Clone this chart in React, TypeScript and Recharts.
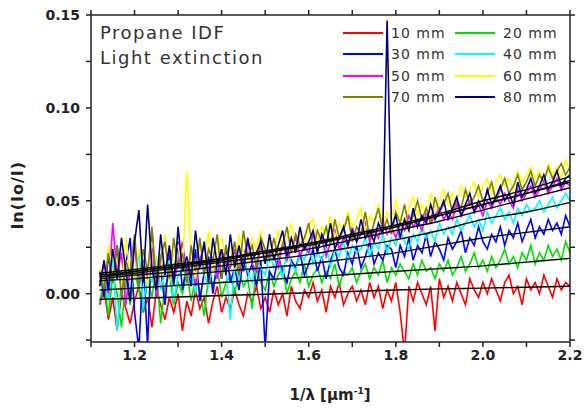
import React from 'react';
import { LineChart, Line, XAxis, YAxis } from 'recharts';

// 1/λ grid, µm^-1
const X = [
  1.12, 1.13, 1.14, 1.15, 1.16, 1.17, 1.18, 1.19, 1.2, 1.21,
  1.22, 1.23, 1.24, 1.25, 1.26, 1.27, 1.28, 1.29, 1.3, 1.31,
  1.32, 1.33, 1.34, 1.35, 1.36, 1.37, 1.38, 1.39, 1.4, 1.41,
  1.42, 1.43, 1.44, 1.45, 1.46, 1.47, 1.48, 1.49, 1.5, 1.51,
  1.52, 1.53, 1.54, 1.55, 1.56, 1.57, 1.58, 1.59, 1.6, 1.61,
  1.62, 1.63, 1.64, 1.65, 1.66, 1.67, 1.68, 1.69, 1.7, 1.71,
  1.72, 1.73, 1.74, 1.75, 1.76, 1.77, 1.78, 1.79, 1.8, 1.81,
  1.82, 1.83, 1.84, 1.85, 1.86, 1.87, 1.88, 1.89, 1.9, 1.91,
  1.92, 1.93, 1.94, 1.95, 1.96, 1.97, 1.98, 1.99, 2.0, 2.01,
  2.02, 2.03, 2.04, 2.05, 2.06, 2.07, 2.08, 2.09, 2.1, 2.11,
  2.12, 2.13, 2.14, 2.15, 2.16, 2.17, 2.18, 2.19, 2.2,
];

const S10 = [
  -0.006, 0.002, -0.014, -0.002, -0.02, 0.0, -0.008, -0.016, -0.004, 0.004,
  -0.01, -0.002, -0.018, 0.002, -0.006, -0.014, -0.002, -0.01, 0.0, -0.02,
  -0.004, -0.012, 0.002, -0.008, -0.002, -0.016, -0.004, 0.004, -0.01, -0.002,
  -0.008, 0.002, -0.006, -0.012, 0.0, -0.004, 0.004, -0.008, -0.002, -0.01,
  0.002, -0.006, 0.0, -0.012, 0.004, -0.004, -0.008, 0.002, -0.002, 0.006,
  -0.004, 0.002, -0.01, 0.004, -0.002, 0.006, -0.006, 0.0, 0.004, -0.004,
  0.002, -0.006, 0.006, -0.002, 0.004, -0.008, 0.002, -0.004, 0.006, -0.01,
  -0.032, 0.004, -0.004, 0.006, 0.0, -0.006, 0.004, -0.02, 0.008, -0.002,
  0.004, -0.004, 0.006, 0.0, -0.006, 0.008, 0.002, -0.002, 0.006, 0.0,
  0.008, 0.002, -0.004, 0.006, 0.01, 0.0, 0.004, -0.006, 0.008, 0.002,
  0.006, 0.0, 0.01, 0.004, -0.002, 0.008, 0.002, 0.006, 0.004,
];

const S20 = [
  -0.004, 0.006, -0.012, 0.01, 0.0, -0.018, 0.008, -0.006, 0.012, 0.002,
  -0.01, 0.008, -0.002, 0.014, -0.016, 0.004, 0.01, -0.006, 0.006, 0.0,
  0.012, -0.004, 0.008, 0.002, -0.012, 0.01, 0.004, 0.014, -0.002, 0.006,
  0.01, 0.0, 0.012, 0.004, 0.008, -0.008, 0.014, 0.006, 0.002, 0.012,
  0.004, 0.01, 0.014, 0.0, 0.008, 0.012, 0.006, 0.016, 0.004, 0.01,
  0.014, 0.006, 0.012, 0.008, 0.016, 0.004, 0.012, 0.01, 0.014, 0.006,
  0.012, 0.016, 0.008, 0.014, 0.01, 0.018, 0.006, 0.014, 0.01, 0.016,
  0.012, 0.008, 0.016, 0.01, 0.018, 0.012, 0.014, 0.008, 0.016, 0.012,
  0.018, 0.01, 0.014, 0.02, 0.012, 0.016, 0.022, 0.014, 0.018, 0.012,
  0.02, 0.014, 0.018, 0.024, 0.016, 0.02, 0.014, 0.022, 0.018, 0.026,
  0.016, 0.022, 0.018, 0.026, 0.02, 0.024, 0.018, 0.028, 0.022,
];

const S30 = [
  0.012, -0.002, 0.02, 0.006, 0.026, 0.0, 0.016, 0.03, -0.01, -0.03,
  0.018, -0.028, 0.034, 0.004, 0.014, -0.006, 0.022, 0.008, 0.028, 0.002,
  0.016, 0.004, 0.024, -0.004, 0.012, 0.02, 0.0, 0.018, 0.008, 0.026,
  0.006, 0.014, 0.002, 0.02, 0.01, 0.016, 0.004, 0.018, -0.03, 0.012,
  0.008, 0.02, 0.012, 0.006, 0.018, 0.014, 0.022, 0.01, 0.016, 0.024,
  0.012, 0.02, 0.008, 0.018, 0.024, 0.014, 0.01, 0.022, 0.016, 0.026,
  0.014, 0.02, 0.028, 0.016, 0.022, 0.018, 0.026, 0.024, 0.014, 0.026,
  0.02, 0.03, 0.018, 0.026, 0.022, 0.032, 0.02, 0.028, 0.024, 0.018,
  0.03, 0.024, 0.028, 0.034, 0.022, 0.03, 0.026, 0.036, 0.028, 0.024,
  0.032, 0.028, 0.036, 0.026, 0.034, 0.03, 0.038, 0.028, 0.034, 0.04,
  0.03, 0.036, 0.032, 0.04, 0.034, 0.038, 0.032, 0.042, 0.036,
];

const S40 = [
  0.004, 0.012, -0.004, 0.018, -0.02, 0.008, 0.016, 0.0, 0.01, 0.022,
  -0.008, 0.014, 0.006, 0.02, 0.002, 0.012, 0.018, -0.004, 0.01, 0.016,
  0.006, 0.014, 0.0, 0.018, 0.01, 0.004, 0.016, 0.008, 0.02, 0.012,
  -0.014, 0.016, 0.008, 0.02, 0.012, 0.006, 0.018, 0.014, 0.01, 0.022,
  0.014, 0.02, 0.008, 0.024, 0.016, 0.012, 0.022, 0.018, 0.026, 0.016,
  0.022, 0.018, 0.026, 0.014, 0.024, 0.02, 0.028, 0.018, 0.026, 0.022,
  0.024, 0.03, 0.02, 0.028, 0.024, 0.032, 0.022, 0.03, 0.026, 0.034,
  0.028, 0.024, 0.032, 0.028, 0.036, 0.03, 0.034, 0.028, 0.038, 0.032,
  0.036, 0.032, 0.04, 0.034, 0.038, 0.042, 0.036, 0.04, 0.034, 0.044,
  0.038, 0.042, 0.046, 0.04, 0.044, 0.038, 0.046, 0.042, 0.048, 0.044,
  0.046, 0.05, 0.044, 0.048, 0.052, 0.046, 0.05, 0.054, 0.05,
];

const S50 = [
  0.006, 0.016, 0.0, 0.038, 0.01, 0.022, -0.006, 0.014, 0.026, 0.004,
  0.018, 0.008, 0.03, -0.002, 0.02, 0.012, 0.024, 0.006, 0.016, 0.028,
  0.01, 0.022, 0.004, 0.018, 0.026, 0.012, 0.02, 0.008, 0.024, 0.016,
  0.014, 0.024, 0.01, 0.02, 0.028, 0.016, 0.012, 0.026, 0.018, 0.022,
  0.02, 0.014, 0.028, 0.018, 0.024, 0.03, 0.02, 0.026, 0.022, 0.032,
  0.024, 0.03, 0.02, 0.028, 0.034, 0.024, 0.03, 0.026, 0.036, 0.028,
  0.032, 0.038, 0.028, 0.034, 0.03, 0.04, 0.032, 0.036, 0.03, 0.038,
  0.034, 0.042, 0.036, 0.04, 0.034, 0.044, 0.038, 0.042, 0.046, 0.04,
  0.044, 0.04, 0.048, 0.042, 0.046, 0.05, 0.044, 0.048, 0.042, 0.05,
  0.046, 0.052, 0.048, 0.054, 0.05, 0.046, 0.056, 0.05, 0.054, 0.058,
  0.052, 0.056, 0.06, 0.054, 0.058, 0.062, 0.056, 0.06, 0.058,
];

const S60 = [
  0.014, 0.006, 0.026, 0.01, 0.02, 0.002, 0.03, 0.012, 0.008, 0.024,
  0.016, 0.004, 0.028, 0.018, 0.01, 0.032, 0.006, 0.022, 0.026, 0.012,
  0.066, 0.02, 0.008, 0.028, 0.016, 0.034, 0.012, 0.024, 0.03, 0.018,
  0.026, 0.012, 0.032, 0.022, 0.016, 0.03, 0.024, 0.034, 0.018, 0.028,
  0.022, 0.034, 0.026, 0.03, 0.038, 0.024, 0.032, 0.028, 0.036, 0.04,
  0.028, 0.036, 0.032, 0.042, 0.03, 0.038, 0.034, 0.044, 0.036, 0.04,
  0.046, 0.034, 0.042, 0.038, 0.048, 0.036, 0.044, 0.04, 0.05, 0.042,
  0.038, 0.046, 0.052, 0.042, 0.048, 0.044, 0.054, 0.046, 0.05, 0.056,
  0.048, 0.054, 0.05, 0.058, 0.052, 0.056, 0.06, 0.052, 0.058, 0.062,
  0.054, 0.06, 0.064, 0.058, 0.062, 0.056, 0.066, 0.06, 0.064, 0.068,
  0.062, 0.066, 0.06, 0.07, 0.064, 0.068, 0.062, 0.072, 0.066,
];

const S70 = [
  0.01, 0.002, 0.022, 0.006, 0.026, -0.002, 0.018, 0.01, 0.032, 0.004,
  0.024, 0.012, 0.036, 0.004, 0.02, 0.028, 0.008, 0.03, 0.014, 0.022,
  0.006, 0.026, 0.012, 0.03, 0.01, 0.024, 0.018, 0.032, 0.008, 0.026,
  0.016, 0.028, 0.01, 0.034, 0.02, 0.026, 0.014, 0.03, 0.024, 0.018,
  0.03, 0.02, 0.026, 0.036, 0.022, 0.032, 0.026, 0.03, 0.038, 0.024,
  0.034, 0.028, 0.036, 0.026, 0.04, 0.03, 0.034, 0.042, 0.028, 0.036,
  0.032, 0.044, 0.03, 0.038, 0.046, 0.034, 0.04, 0.032, 0.044, 0.038,
  0.048, 0.036, 0.042, 0.05, 0.04, 0.046, 0.038, 0.052, 0.044, 0.048,
  0.054, 0.044, 0.05, 0.046, 0.056, 0.048, 0.052, 0.058, 0.05, 0.054,
  0.06, 0.05, 0.056, 0.062, 0.054, 0.058, 0.064, 0.056, 0.06, 0.066,
  0.058, 0.064, 0.06, 0.068, 0.062, 0.066, 0.07, 0.064, 0.068,
];

const S80 = [
  0.004, 0.018, 0.002, 0.024, 0.008, 0.03, 0.012, -0.004, 0.028, 0.045,
  0.006, 0.048, 0.014, 0.002, 0.032, 0.01, 0.026, 0.004, 0.036, 0.012,
  0.02, 0.008, 0.034, 0.014, 0.028, 0.006, 0.03, 0.016, 0.024, 0.01,
  0.032, 0.014, 0.026, 0.012, 0.03, 0.018, 0.022, 0.028, 0.016, 0.032,
  0.018, 0.026, 0.034, 0.02, 0.03, 0.022, 0.036, 0.024, 0.028, 0.034,
  0.022, 0.032, 0.026, 0.038, 0.024, 0.03, 0.036, 0.026, 0.034, 0.028,
  0.04, 0.03, 0.034, 0.028, 0.038, 0.032, 0.147, 0.036, 0.042, 0.03,
  0.04, 0.034, 0.046, 0.036, 0.042, 0.038, 0.048, 0.04, 0.044, 0.05,
  0.04, 0.046, 0.052, 0.042, 0.048, 0.054, 0.044, 0.05, 0.046, 0.056,
  0.048, 0.052, 0.058, 0.05, 0.054, 0.048, 0.06, 0.052, 0.056, 0.062,
  0.054, 0.058, 0.064, 0.056, 0.06, 0.066, 0.058, 0.062, 0.064,
];

// fitted curves (black)
const FX = [1.12, 1.2, 1.3, 1.4, 1.5, 1.6, 1.7, 1.8, 1.9, 2.0, 2.1, 2.2];
const F10 = [-0.003, -0.0025, -0.0018, -0.001, -0.0003, 0.0005, 0.0012, 0.002, 0.0026, 0.003, 0.0035, 0.004];
const F20 = [0.002, 0.003, 0.0045, 0.006, 0.0075, 0.009, 0.0105, 0.012, 0.0135, 0.015, 0.017, 0.019];
const F30 = [0.007, 0.008, 0.01, 0.012, 0.014, 0.016, 0.019, 0.022, 0.026, 0.03, 0.033, 0.036];
const F40 = [0.008, 0.01, 0.012, 0.015, 0.018, 0.021, 0.025, 0.029, 0.034, 0.04, 0.044, 0.049];
const F50 = [0.009, 0.011, 0.014, 0.017, 0.02, 0.024, 0.029, 0.034, 0.039, 0.045, 0.051, 0.057];
const F60 = [0.011, 0.013, 0.016, 0.019, 0.023, 0.027, 0.032, 0.037, 0.043, 0.05, 0.056, 0.063];
const F70 = [0.01, 0.012, 0.015, 0.019, 0.022, 0.027, 0.031, 0.036, 0.042, 0.048, 0.054, 0.06];
const F80 = [0.009, 0.012, 0.015, 0.018, 0.022, 0.026, 0.031, 0.036, 0.042, 0.048, 0.054, 0.061];

const SERIES = [
  { key: 's10', name: '10 mm', color: '#ff0000', values: S10, fit: F10 },
  { key: 's20', name: '20 mm', color: '#00e000', values: S20, fit: F20 },
  { key: 's30', name: '30 mm', color: '#0000ff', values: S30, fit: F30 },
  { key: 's40', name: '40 mm', color: '#00ffff', values: S40, fit: F40 },
  { key: 's50', name: '50 mm', color: '#ff00ff', values: S50, fit: F50 },
  { key: 's60', name: '60 mm', color: '#ffff00', values: S60, fit: F60 },
  { key: 's70', name: '70 mm', color: '#808000', values: S70, fit: F70 },
  { key: 's80', name: '80 mm', color: '#000080', values: S80, fit: F80 },
];

const X_TICKS = [1.1, 1.2, 1.3, 1.4, 1.5, 1.6, 1.7, 1.8, 1.9, 2.0, 2.1, 2.2];
const Y_TICKS = [-0.025, 0, 0.025, 0.05, 0.075, 0.1, 0.125, 0.15];

const FONT = '"DejaVu Sans", Arial, sans-serif';
const AXIS = '#222';

const data = X.map((x, i) => {
  const row: any = { x };
  SERIES.forEach((s) => (row[s.key] = s.values[i]));
  return row;
});

const fitData = FX.map((x, i) => {
  const row: any = { x };
  SERIES.forEach((s) => (row['f' + s.key] = s.fit[i]));
  return row;
});

const xLabel = (v: number) => (Math.round(v * 10) % 2 === 0 ? v.toFixed(1) : '');
const yLabel = (v: number) => (Math.abs(Math.round(v * 1000) % 50) === 0 ? v.toFixed(2) : '');
const blank = () => '';

const tickStyle = { fontSize: 14, fontWeight: 'bold', fill: '#222', fontFamily: FONT };

export default function App() {
  return (
    <div style={{ position: 'absolute', left: 0, top: 0, width: 587, height: 409, background: '#fff' }}>
      <LineChart width={587} height={409} data={data} margin={{ top: 10, right: 0, bottom: 0, left: 0 }}>
        <XAxis
          dataKey="x"
          type="number"
          domain={[1.1, 2.2]}
          ticks={X_TICKS}
          tickFormatter={xLabel}
          allowDataOverflow
          height={67}
          tickSize={5}
          tickMargin={3}
          tick={tickStyle}
          stroke={AXIS}
          strokeWidth={1.5}
        />
        <XAxis
          xAxisId="top"
          orientation="top"
          dataKey="x"
          type="number"
          domain={[1.1, 2.2]}
          ticks={X_TICKS}
          tickFormatter={blank}
          allowDataOverflow
          height={5}
          tickSize={5}
          stroke={AXIS}
          strokeWidth={1.5}
        />
        <YAxis
          type="number"
          domain={[-0.026, 0.15]}
          ticks={Y_TICKS}
          tickFormatter={yLabel}
          allowDataOverflow
          width={91}
          tickSize={5}
          tickMargin={6}
          tick={tickStyle}
          stroke={AXIS}
          strokeWidth={1.5}
        />
        <YAxis
          yAxisId="right"
          orientation="right"
          type="number"
          domain={[-0.026, 0.15]}
          ticks={Y_TICKS}
          tickFormatter={blank}
          allowDataOverflow
          width={17}
          tickSize={5}
          stroke={AXIS}
          strokeWidth={1.5}
        />
        {SERIES.map((s) => (
          <Line
            key={s.key}
            type="linear"
            dataKey={s.key}
            stroke={s.color}
            strokeWidth={1.6}
            dot={false}
            isAnimationActive={false}
          />
        ))}
        {SERIES.map((s) => (
          <Line
            key={'f' + s.key}
            data={fitData}
            type="monotone"
            dataKey={'f' + s.key}
            stroke="#000"
            strokeWidth={1.4}
            dot={false}
            isAnimationActive={false}
          />
        ))}
      </LineChart>

      <div style={{ position: 'absolute', left: 100, top: 21, fontFamily: FONT, fontSize: 18, letterSpacing: 1.5, color: '#333', lineHeight: '24.5px', whiteSpace: 'nowrap' }}>
        <div>Propane IDF</div>
        <div>Light extinction</div>
      </div>

      <div style={{ position: 'absolute', left: 343, top: 22, display: 'grid', gridTemplateColumns: '112px 120px', fontFamily: FONT, fontSize: 14, letterSpacing: 1, color: '#333', whiteSpace: 'nowrap' }}>
        {SERIES.map((s) => (
          <div key={s.key} style={{ display: 'flex', alignItems: 'center', height: 21.5 }}>
            <span style={{ display: 'inline-block', width: 40, height: 2, background: s.color, marginRight: 8, flexShrink: 0 }} />
            <span>{s.name}</span>
          </div>
        ))}
      </div>

      <div style={{ position: 'absolute', left: 17, top: 195, transform: 'translate(-50%, -50%) rotate(-90deg)', fontFamily: FONT, fontSize: 16, fontWeight: 'bold', letterSpacing: 1, color: '#222', whiteSpace: 'nowrap' }}>
        ln(Io/I)
      </div>
      <div style={{ position: 'absolute', left: 330, top: 395, transform: 'translate(-50%, -50%)', fontFamily: FONT, fontSize: 15, fontWeight: 'bold', color: '#222', whiteSpace: 'nowrap' }}>
        1/λ [µm<sup style={{ fontSize: 9 }}>-1</sup>]
      </div>
    </div>
  );
}
